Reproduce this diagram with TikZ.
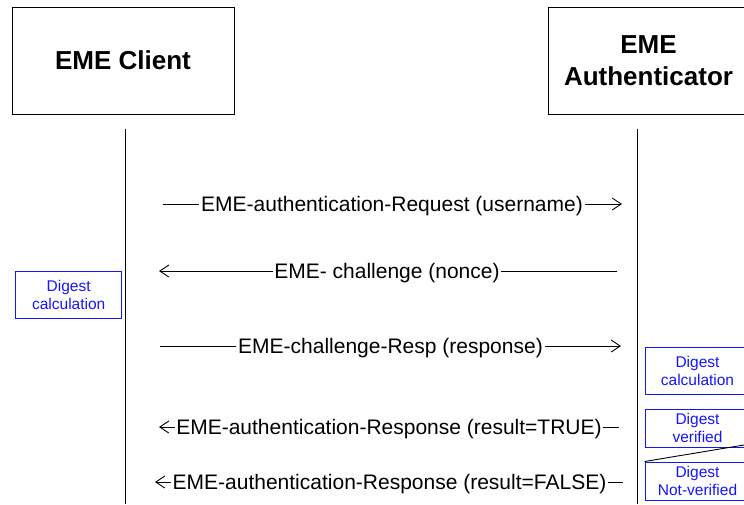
\documentclass[tikz,border=0pt]{standalone}
\usepackage{fontspec}
\setmainfont{Liberation Sans}
\usetikzlibrary{arrows.meta}
\definecolor{dgblue}{RGB}{20,20,255}
\tikzset{
  hdr/.style={draw=black, line width=1pt, align=center, font=\bfseries\fontsize{26}{32}\selectfont, inner sep=0pt},
  lifeline/.style={draw=black, line width=1pt},
  msgtxt/.style={font=\fontsize{21}{25}\selectfont, inner sep=1.5pt, anchor=base},
  msgline/.style={draw=black, line width=0.9pt},
  msgarrow/.style={msgline, -{Straight Barb[length=9pt,width=12pt,line width=0.9pt]}},
  digest/.style={draw=dgblue, text=dgblue, line width=1pt, align=center, font=\fontsize{15.5}{18}\selectfont, inner sep=0pt}
}
\begin{document}
\begin{tikzpicture}[x=1pt,y=-1pt]
\useasboundingbox (0,0) rectangle (744,504);
% header boxes
\node[hdr, minimum width=222pt, minimum height=107pt] (client) at (123,60.5) {EME Client};
\node[hdr, minimum width=201pt, minimum height=107pt] (auth) at (648.5,60.5) {EME\\Authenticator};
% lifelines
\coordinate (cltop) at (125,129);
\coordinate (clbot) at (125,504);
\coordinate (autop) at (637.5,129);
\coordinate (aubot) at (637.5,504);
\draw[lifeline] (cltop) -- (clbot);
\draw[lifeline] (autop) -- (aubot);
% message end points
\coordinate (a1) at (162.5,204); \coordinate (b1) at (622,204);
\coordinate (a2) at (159,271);   \coordinate (b2) at (617,271);
\coordinate (a3) at (160,346);   \coordinate (b3) at (621,346);
\coordinate (a4) at (159,427);   \coordinate (b4) at (619,427);
\coordinate (a5) at (155,482);   \coordinate (b5) at (623,482);
% message texts
\node[msgtxt] (t1) at (392,211.5) {EME-authentication-Request (username)};
\node[msgtxt] (t2) at (387,278.5) {EME- challenge (nonce)};
\node[msgtxt] (t3) at (390.5,353.5) {EME-challenge-Resp (response)};
\node[msgtxt] (t4) at (389,434.5) {EME-authentication-Response (result=TRUE)};
\node[msgtxt] (t5) at (389.5,489.5) {EME-authentication-Response (result=FALSE)};
% message lines
\draw[msgline] (a1) -- (t1.west |- a1);
\draw[msgarrow] (t1.east |- b1) -- (b1);
\draw[msgarrow] (t2.west |- a2) -- (a2);
\draw[msgline] (t2.east |- b2) -- (b2);
\draw[msgline] (a3) -- (t3.west |- a3);
\draw[msgarrow] (t3.east |- b3) -- (b3);
\draw[msgarrow] (t4.west |- a4) -- (a4);
\draw[msgline] (t4.east |- b4) -- (b4);
\draw[msgarrow] (t5.west |- a5) -- (a5);
\draw[msgline] (t5.east |- b5) -- (b5);
% digest boxes
\node[digest, minimum width=106pt, minimum height=46.6pt] (dleft) at (68.7,295) {Digest\\calculation};
\node[digest, minimum width=105pt, minimum height=47pt] (dcalc) at (697.5,370.5) {Digest\\calculation};
\node[digest, minimum width=105pt, minimum height=38pt] (dver) at (697.5,428) {Digest\\verified};
\node[digest, minimum width=105pt, minimum height=38pt] (dnot) at (697.5,481) {Digest\\Not-verified};
\coordinate (diagend) at (750,444);
\draw[black, line width=0.9pt] (dnot.north west) -- (diagend);
\end{tikzpicture}
\end{document}
